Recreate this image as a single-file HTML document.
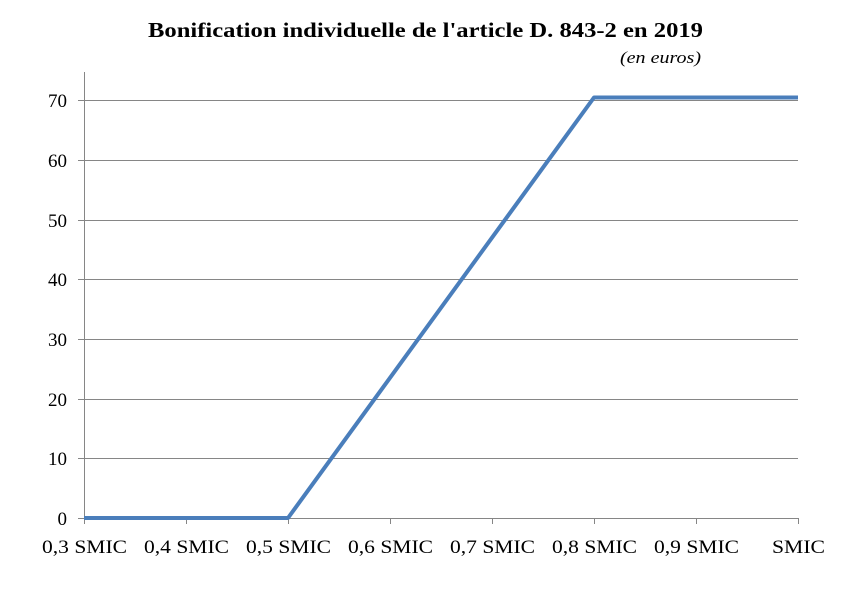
<!DOCTYPE html>
<html><head><meta charset="utf-8"><style>body{margin:0;background:#fff}svg{display:block}</style></head><body>
<svg width="852" height="590" viewBox="0 0 852 590" xmlns="http://www.w3.org/2000/svg" font-family="'Liberation Serif', serif">
<rect width="852" height="590" fill="#fff"/>
<text x="148" y="37" font-size="21" font-weight="bold" textLength="555" lengthAdjust="spacingAndGlyphs">Bonification individuelle de l'article D. 843-2 en 2019</text>
<text x="620" y="63" font-size="17" font-style="italic" textLength="81" lengthAdjust="spacingAndGlyphs">(en euros)</text>
<g stroke="#868686" stroke-width="1">
<line x1="78" y1="100.5" x2="798" y2="100.5"/>
<line x1="78" y1="160.5" x2="798" y2="160.5"/>
<line x1="78" y1="220.5" x2="798" y2="220.5"/>
<line x1="78" y1="279.5" x2="798" y2="279.5"/>
<line x1="78" y1="339.5" x2="798" y2="339.5"/>
<line x1="78" y1="399.5" x2="798" y2="399.5"/>
<line x1="78" y1="458.5" x2="798" y2="458.5"/>
<line x1="78" y1="518.5" x2="798" y2="518.5"/>
<line x1="84.5" y1="72" x2="84.5" y2="518"/>
<line x1="84.5" y1="518" x2="84.5" y2="524"/>
<line x1="186.5" y1="518" x2="186.5" y2="524"/>
<line x1="288.5" y1="518" x2="288.5" y2="524"/>
<line x1="390.5" y1="518" x2="390.5" y2="524"/>
<line x1="492.5" y1="518" x2="492.5" y2="524"/>
<line x1="594.5" y1="518" x2="594.5" y2="524"/>
<line x1="696.5" y1="518" x2="696.5" y2="524"/>
<line x1="798.5" y1="518" x2="798.5" y2="524"/>
</g>
<g font-size="19" text-anchor="end">
<text x="67" y="107">70</text><text x="67" y="167">60</text><text x="67" y="227">50</text>
<text x="67" y="286">40</text><text x="67" y="346">30</text><text x="67" y="406">20</text>
<text x="67" y="465">10</text><text x="67" y="525">0</text>
</g>
<g font-size="19">
<text x="42" y="553" textLength="85" lengthAdjust="spacingAndGlyphs">0,3 SMIC</text>
<text x="144" y="553" textLength="85" lengthAdjust="spacingAndGlyphs">0,4 SMIC</text>
<text x="246" y="553" textLength="85" lengthAdjust="spacingAndGlyphs">0,5 SMIC</text>
<text x="348" y="553" textLength="85" lengthAdjust="spacingAndGlyphs">0,6 SMIC</text>
<text x="450" y="553" textLength="85" lengthAdjust="spacingAndGlyphs">0,7 SMIC</text>
<text x="552" y="553" textLength="85" lengthAdjust="spacingAndGlyphs">0,8 SMIC</text>
<text x="654" y="553" textLength="85" lengthAdjust="spacingAndGlyphs">0,9 SMIC</text>
<text x="772" y="553" textLength="53" lengthAdjust="spacingAndGlyphs">SMIC</text>
</g>
<polyline points="84,518 288,518 594,97.5 798,97.5" fill="none" stroke="#4a7ebb" stroke-width="4" stroke-linejoin="round"/>
</svg>
</body></html>
